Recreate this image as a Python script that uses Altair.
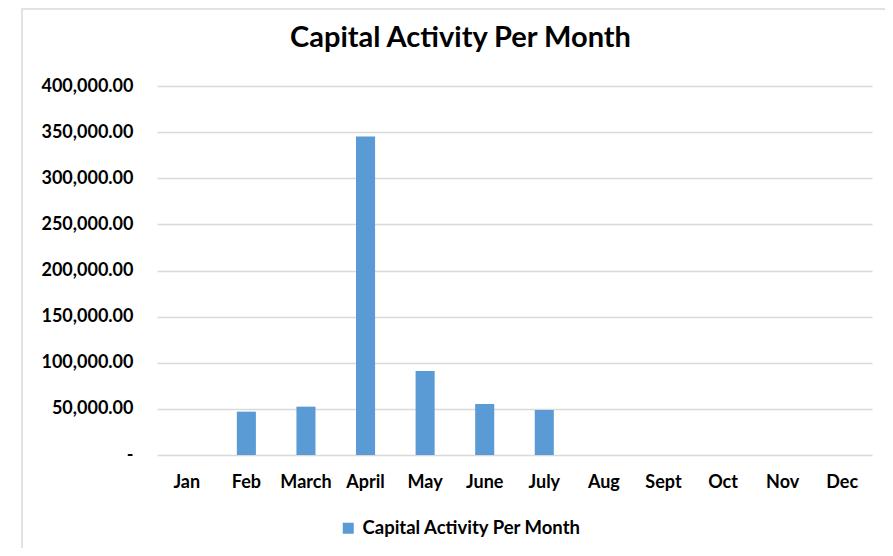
import altair as alt
import pandas as pd

months = ["Jan", "Feb", "March", "April", "May", "June", "July", "Aug", "Sept", "Oct", "Nov", "Dec"]
values = [0, 47000, 52400, 345200, 91100, 55300, 48800, 0, 0, 0, 0, 0]
series_name = "Capital Activity Per Month"
y_ticks = [0, 50000, 100000, 150000, 200000, 250000, 300000, 350000, 400000]

df = pd.DataFrame({"month": months, "value": values, "series": [series_name] * len(months)})

FONT = "Lato"
GRID = "#D9D9D9"

bars = alt.Chart(df).mark_bar(color="#5B9BD5").encode(
    x=alt.X("month:N", sort=months,
            scale=alt.Scale(paddingInner=0.68, paddingOuter=0.34),
            axis=alt.Axis(title=None, labelAngle=0, domain=False, ticks=False,
                          labelPadding=18, labelFont=FONT, labelFontSize=18,
                          labelFontWeight="bold", labelColor="#000000")),
    y=alt.Y("value:Q", scale=alt.Scale(domain=[0, 400000], nice=False),
            axis=alt.Axis(title=None, values=y_ticks, domain=False, ticks=False,
                          labelPadding=24, labelFont=FONT, labelFontSize=18,
                          labelFontWeight="bold", labelColor="#000000",
                          gridColor=GRID, gridWidth=1.5,
                          labelExpr="datum.value == 0 ? '-\u00a0\u00a0\u00a0\u00a0' : format(datum.value, ',.2f')")),
    color=alt.Color("series:N", scale=alt.Scale(range=["#5B9BD5"]),
                    legend=alt.Legend(title=None, orient="none", legendX=182, legendY=433,
                                      symbolType="square", symbolSize=121, symbolStrokeWidth=0,
                                      labelFont=FONT, labelFontSize=18.5, labelFontWeight="bold",
                                      labelColor="#000000", labelOffset=5, padding=0,
                                      labelLimit=0)),
)

frame = alt.Chart(pd.DataFrame({"a": [0]})).mark_rect(fill=None, stroke=GRID, strokeWidth=1.5).encode(
    x=alt.value(-135), x2=alt.value(760), y=alt.value(-77), y2=alt.value(520)
)

chart = alt.layer(frame, bars).properties(
    width=715, height=369,
    padding={"left": 149, "top": 78, "right": 13, "bottom": 93},
    autosize=alt.AutoSizeParams(type="none"),
    title=alt.TitleParams(series_name, anchor="middle", dx=-54, dy=68, offset=0,
                          baseline="alphabetic", font=FONT, fontSize=29,
                          fontWeight="bold", color="#000000"),
).configure(background="white").configure_view(stroke=None)

chart.save("out.html", embed_options={"renderer": "svg", "actions": False})
